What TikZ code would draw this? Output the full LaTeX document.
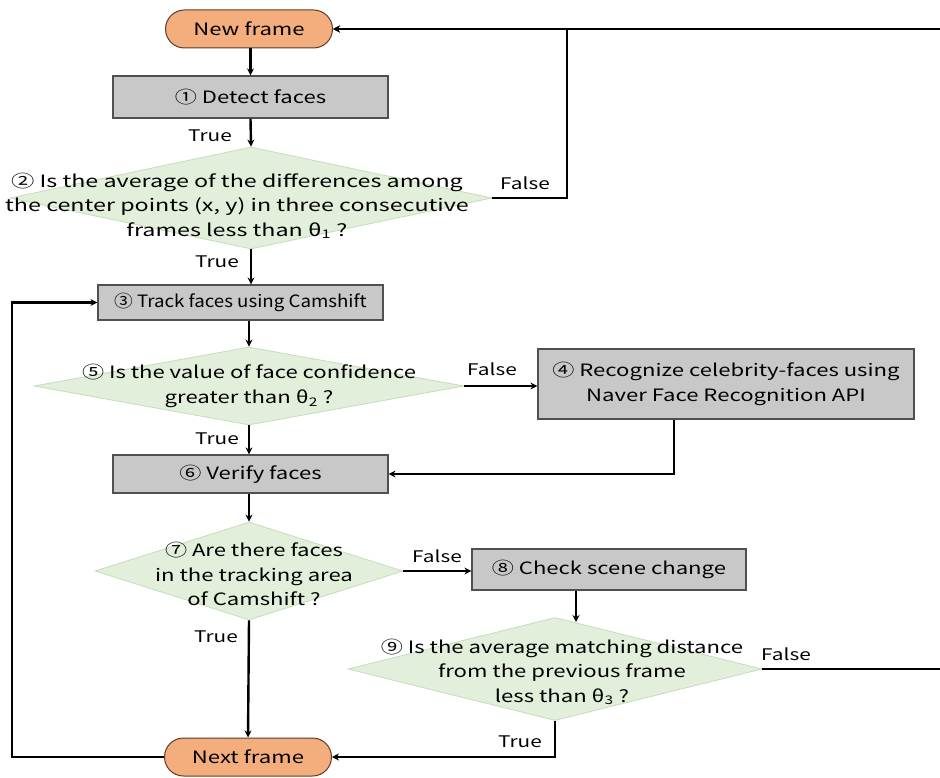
\documentclass[tikz,border=0pt]{standalone}
\usepackage{fontspec}
\setmainfont{Noto Sans CJK KR}[FakeStretch=1.3]
\newfontfamily\narrowface{Noto Sans CJK KR}[FakeStretch=1.1]
\newfontfamily\wideface{Noto Sans CJK KR}[FakeStretch=1.37]
\usetikzlibrary{shapes.geometric,arrows.meta}
\definecolor{termfill}{RGB}{244,174,126}
\definecolor{termline}{RGB}{90,60,40}
\definecolor{procfill}{RGB}{200,200,200}
\definecolor{procline}{RGB}{80,80,80}
\definecolor{diafill}{RGB}{226,239,218}
\definecolor{dialine}{RGB}{200,220,185}
\begin{document}
\begin{tikzpicture}[x=1pt,y=-1pt,
  every node/.style={font=\fontsize{17}{24.5}\selectfont},
  term/.style={draw=termline, fill=termfill, rounded corners=19pt,
    minimum width=167pt, minimum height=38pt, line width=1pt, inner sep=0pt},
  proc/.style={draw=procline, fill=procfill, line width=1.2pt, inner sep=0pt, align=center},
  dia/.style={diamond, draw=dialine, fill=diafill, line width=0.8pt, inner sep=0pt},
  txt/.style={align=center, inner sep=0pt},
  lab/.style={inner sep=0pt, font=\fontsize{16}{20}\selectfont},
  flow/.style={line width=2.4pt, -{Stealth[length=7pt,width=7pt]}}
]
\clip (0,0) rectangle (940,778);

% terminals
\node[term] (new) at (249,29) {New frame};
\node[term] (next) at (248,757) {Next frame};

% process boxes
\node[proc, minimum width=275pt, minimum height=42pt] (p1) at (250.5,97) {① Detect faces};
\node[proc, minimum width=285pt, minimum height=35pt,
      font=\narrowface\fontsize{17}{24.5}\selectfont] (p3) at (240.5,302.5) {③ Track faces using Camshift};
\node[proc, minimum width=376pt, minimum height=70pt] (p4) at (726,384) {④ Recognize celebrity-faces using\\Naver Face Recognition API};
\node[proc, minimum width=275pt, minimum height=38pt] (p6) at (250.5,474) {⑥ Verify faces};
\node[proc, minimum width=274pt, minimum height=41pt] (p8) at (609,569.5) {⑧ Check scene change};

% decisions
\node[dia, minimum width=482pt, minimum height=102pt] (d2) at (251,198) {};
\node[txt, font=\wideface\fontsize{17}{24.5}\selectfont] (d2t) at (237,206)
  {② Is the average of the differences among\\the center points (x, y) in three consecutive\\frames less than θ\textsubscript{1} ?};
\node[dia, minimum width=430pt, minimum height=78pt] (d5) at (249,386) {};
\node[txt] (d5t) at (249,386) {⑤ Is the value of face confidence\\greater than θ\textsubscript{2} ?};
\node[dia, minimum width=308pt, minimum height=98pt] (d7) at (249,571) {};
\node[txt] (d7t) at (254,574) {⑦ Are there faces\\in the tracking area\\of Camshift ?};
\node[dia, minimum width=414pt, minimum height=103pt] (d9) at (555,669) {};
\node[txt] (d9t) at (562,672) {⑨ Is the average matching distance\\from the previous frame\\less than θ\textsubscript{3} ?};

% routing points
\coordinate (lx) at (12,0);
\coordinate (rx) at (948,0);
\coordinate (fx) at (567,0);
\coordinate (p4out) at (674,0);
\coordinate (c9) at (576,622);

% connectors
\draw[flow] (p1.north |- new.south) -- (p1.north);
\draw[flow] (p1.south) -- (d2.north);
\draw[flow] (d2.south) -- (d2.south |- p3.north);
\draw[flow] (d5.north |- p3.south) -- (d5.north);
\draw[flow] (d5.east) -- (d5.east -| p4.west);
\draw[flow] (p4.south -| p4out) |- (p6.east);
\draw[flow] (d5.south) -- (d5.south |- p6.north);
\draw[flow] (p6.south -| d7.north) -- (d7.north);
\draw[flow] (d7.east) -- (d7.east -| p8.west);
\draw[flow] (p8.south -| c9) -- (c9);
\draw[flow] (d9.south) |- (next.east);
\draw[flow] (d7.south) -- (next.north);
\draw[flow] (next.west) -| (lx |- p3.west) -- (p3.west);
\draw[flow] (d9.east) -| (rx |- new.east) -- (new.east);
\draw[flow] (d2.east) -| (fx |- new.east) -- (new.east);

% branch labels
\node[lab] (t1) at (210,136) {True};
\node[lab] (t2) at (217,262) {True};
\node[lab] (t3) at (217,439) {True};
\node[lab] (t4) at (216,637) {True};
\node[lab] (t5) at (520,742) {True};
\node[lab] (f2) at (525,183) {False};
\node[lab] (f5) at (492,369) {False};
\node[lab] (f7) at (437,556) {False};
\node[lab] (f9) at (786,654) {False};
\end{tikzpicture}
\end{document}
